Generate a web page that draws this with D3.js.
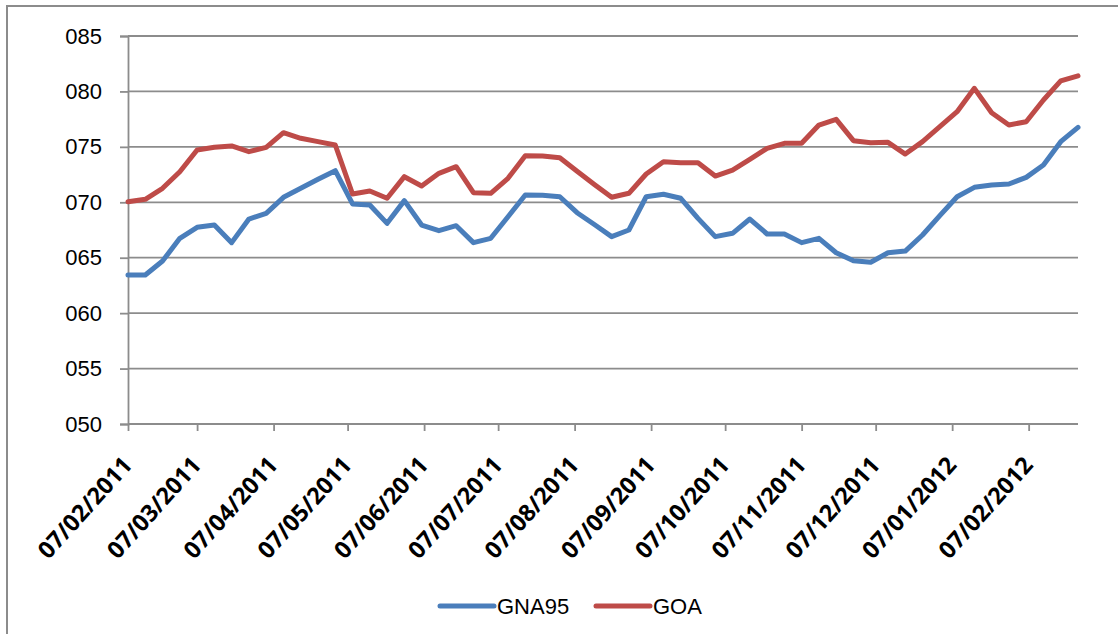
<!DOCTYPE html>
<html>
<head>
<meta charset="utf-8">
<script src="https://cdn.jsdelivr.net/npm/d3@7"></script>
<style>
  body { margin: 0; background: #fff; }
  svg { display: block; }
  .xlab { font-family: "Open Sans", "Noto Sans", sans-serif; font-weight: 700; }
</style>
</head>
<body>
<script>
const width = 1118, height = 634
const margin = {top: 36, right: 40, bottom: 210, left: 128}

// weekly (monday) observations, first and last date
const firstDate = "07/02/2011", lastDate = "27/02/2012"
const tickLabels = ["07/02/2011", "07/03/2011", "07/04/2011", "07/05/2011", "07/06/2011", "07/07/2011",
  "07/08/2011", "07/09/2011", "07/10/2011", "07/11/2011", "07/12/2011", "07/01/2012", "07/02/2012"]
const yTicks = [50, 55, 60, 65, 70, 75, 80, 85]

const gna95 = [63.44, 63.44, 64.7, 66.75, 67.74, 67.95, 66.36, 68.49, 69.0, 70.45,
  71.26, 72.07, 72.85, 69.85, 69.75, 68.1, 70.15, 67.95, 67.44, 67.89,
  66.36, 66.75, 68.7, 70.66, 70.63, 70.5, 69.06, 68.0, 66.9, 67.5,
  70.5, 70.72, 70.36, 68.55, 66.9, 67.2, 68.49, 67.14, 67.14, 66.36,
  66.75, 65.45, 64.73, 64.59, 65.45, 65.6, 67.05, 68.79, 70.5, 71.35,
  71.56, 71.65, 72.25, 73.36, 75.47, 76.76]
const goa = [70.05, 70.27, 71.26, 72.76, 74.72, 74.96, 75.08, 74.57, 74.96, 76.28,
  75.77, 75.47, 75.17, 70.75, 71.02, 70.36, 72.31, 71.47, 72.61, 73.21,
  70.87, 70.81, 72.16, 74.2, 74.17, 74.02, 72.8, 71.6, 70.45, 70.81,
  72.55, 73.66, 73.57, 73.57, 72.37, 72.91, 73.88, 74.87, 75.32, 75.32,
  76.97, 77.48, 75.56, 75.38, 75.41, 74.35, 75.47, 76.82, 78.17, 80.28,
  78.08, 76.97, 77.27, 79.23, 80.95, 81.4]

const seriesNames = ["GNA95", "GOA"]
const seriesColors = ["#4a7ebb", "#be4b48"]
const gridColor = "#8c8c8c"

const parse = d3.timeParse("%d/%m/%Y")
const dates = d3.timeMonday.range(parse(firstDate), d3.timeDay.offset(parse(lastDate), 1))
const tickDates = tickLabels.map(parse)

const svg = d3.select("body").append("svg")
  .attr("width", width)
  .attr("height", height)

svg.append("rect")
  .attr("width", width).attr("height", height)
  .attr("fill", "#fff")

// chart frame (runs off the right and bottom edge)
svg.append("rect")
  .attr("x", 7).attr("y", 6)
  .attr("width", 1300).attr("height", 800)
  .attr("fill", "none")
  .attr("stroke", gridColor)
  .attr("stroke-width", 2)

const xScale = d3.scaleTime()
  .domain([dates[0], dates[dates.length - 1]])
  .range([margin.left, width - margin.right])

const yScale = d3.scaleLinear()
  .domain([50, 85])
  .range([height - margin.bottom, margin.top])

// horizontal gridlines
svg.append("g")
  .selectAll("line")
  .data(yTicks)
  .enter()
  .append("line")
  .attr("x1", margin.left).attr("x2", width - margin.right)
  .attr("y1", d => yScale(d)).attr("y2", d => yScale(d))
  .attr("stroke", gridColor)
  .attr("stroke-width", 1.8)

// y axis
const yAxis = svg.append("g")
  .attr("transform", "translate(" + margin.left + ",0)")
  .call(d3.axisLeft(yScale).tickValues(yTicks).tickSize(8).tickPadding(18).tickFormat(d3.format("03d")))
yAxis.selectAll("line, path").attr("stroke", gridColor).attr("stroke-width", 1.8)
yAxis.selectAll("text")
  .attr("font-family", "Liberation Sans, Arial, sans-serif")
  .attr("font-size", "22px")
  .attr("fill", "#000")

// x axis
const xAxis = svg.append("g")
  .attr("transform", "translate(0," + (height - margin.bottom) + ")")
  .call(d3.axisBottom(xScale).tickValues(tickDates).tickSize(7).tickFormat(d3.timeFormat("%d/%m/%Y")))
xAxis.attr("font-family", null)
xAxis.select("path").attr("d", "M" + margin.left + ",0H" + (width - margin.right))
xAxis.selectAll("line, path").attr("stroke", gridColor).attr("stroke-width", 1.8)
xAxis.selectAll("text")
  .attr("class", "xlab")
  .attr("font-size", "23.5px")
  .attr("fill", "#000")
  .attr("text-anchor", "end")
  .attr("dy", null)
  .attr("y", null)
  .attr("transform", "translate(5,42) rotate(-48)")

// lines
const series = [gna95, goa]
const line = d3.line()
  .x((d, i) => xScale(dates[i]))
  .y(d => yScale(d))

svg.append("g")
  .selectAll("path")
  .data(series)
  .enter()
  .append("path")
  .attr("d", d => line(d))
  .attr("fill", "none")
  .attr("stroke", (d, i) => seriesColors[i])
  .attr("stroke-width", 5)
  .attr("stroke-linejoin", "round")
  .attr("stroke-linecap", "round")

// legend
const legendX = [440, 596]
const legend = svg.append("g")
  .selectAll("g")
  .data(seriesNames)
  .enter()
  .append("g")
  .attr("transform", (d, i) => "translate(" + legendX[i] + ",606)")
legend.append("line")
  .attr("x1", 0).attr("x2", 54)
  .attr("stroke", (d, i) => seriesColors[i])
  .attr("stroke-width", 5)
  .attr("stroke-linecap", "round")
legend.append("text")
  .attr("x", 57)
  .attr("dy", "0.36em")
  .attr("font-family", "Liberation Sans, Arial, sans-serif")
  .attr("font-size", "22px")
  .text(d => d)
</script>
</body>
</html>
